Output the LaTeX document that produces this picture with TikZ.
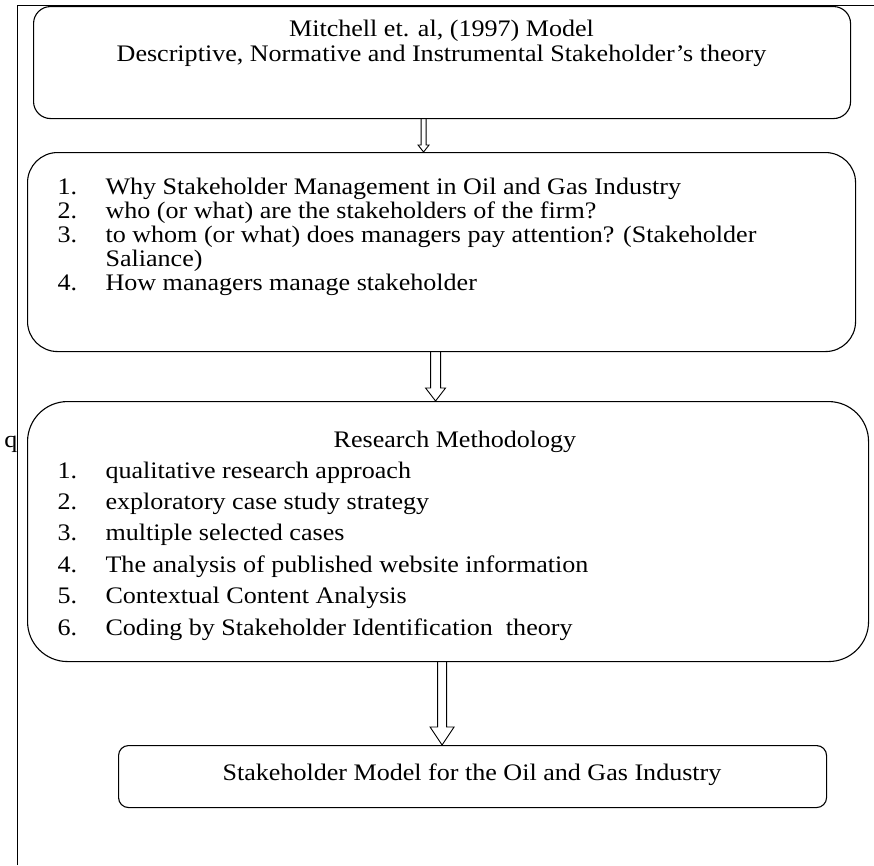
\documentclass[tikz,border=0pt]{standalone}
\usepackage{fontspec}
\setmainfont{Liberation Serif}[FakeStretch=1.1]
\usetikzlibrary{calc}

\begin{document}
\begin{tikzpicture}[
      x=1pt, y=-1pt,
      line width=1.1pt,
      font=\fontsize{23.7}{24}\selectfont,
      box/.style={draw, rounded corners=#1, inner sep=0pt, anchor=north west},
      txt/.style={inner sep=0pt, anchor=base west},
      hollow/.style args={#1/#2/#3}{line width=0.9pt, to path={let \p1=(\tikztostart), \p2=(\tikztotarget) in
          (\x1-#1,\y1) -- (\x1-#1,\y2+#3) -- (\x1-#2,\y2+#3) -- (\x1,\y2)
          -- (\x1+#2,\y2+#3) -- (\x1+#1,\y2+#3) -- (\x1+#1,\y1)}},
    ]
      \useasboundingbox (0,0) rectangle (874,865);
      % frame of the page
      \draw[line width=0.9pt] (17,865) -- (17,5) -- (874,5);
      \node[inner sep=0pt, anchor=base] (stray) at (11,447) {q};

      % boxes
      \node[box=17pt, minimum width=817pt, minimum height=112pt] (mitchell) at (33,6) {};
      \node[box=30pt, minimum width=828pt, minimum height=199pt] (why) at (27,152) {};
      \node[box=40pt, minimum width=841pt, minimum height=260pt] (method) at (27,401) {};
      \node[box=10pt, minimum width=708pt, minimum height=62pt] (model) at (118,745) {};

      % texts
      \node[inner sep=0pt, anchor=base] (mitchell-txt) at (441.5,36) {\begin{tabular}[t]{@{}c@{}}
          Mitchell et. al, (1997) Model\\[1pt]
          Descriptive, Normative and Instrumental Stakeholder’s theory
        \end{tabular}};
      \node[txt] (why-txt) at (57,194) {\begin{tabular}[t]{@{}p{48pt}@{}l@{}}
          1. & Why Stakeholder Management in Oil and Gas Industry\\
          2. & who (or what) are the stakeholders of the firm?\\
          3. & to whom (or what) does managers pay attention? (Stakeholder\\
             & Saliance)\\
          4. & How managers manage stakeholder
        \end{tabular}};
      \node[inner sep=0pt, anchor=base] (method-title) at (455,447) {Research Methodology};
      \node[txt] (method-txt) at (57,478) {\renewcommand{\arraystretch}{1.31}%
        \begin{tabular}[t]{@{}p{48pt}@{}l@{}}
          1. & qualitative research approach\\
          2. & exploratory case study strategy\\
          3. & multiple selected cases\\
          4. & The analysis of published website information\\
          5. & Contextual Content Analysis\\
          6. & Coding by Stakeholder Identification\ \ theory
        \end{tabular}};
      \node[inner sep=0pt, anchor=base] (model-txt) at (472,780) {Stakeholder Model for the Oil and Gas Industry};

      % hollow arrows
      \draw[hollow=2.5pt/5.5pt/7pt] ($(mitchell.south)+(-18.5,0)$) to (why.north);
      \draw[hollow=5pt/10pt/13pt] ($(why.south)+(-6,0)$) to (method.north);
      \draw[hollow=4.5pt/12pt/18pt] ($(method.south)+(-6,0)$) to (model.north);
\end{tikzpicture}
\end{document}
